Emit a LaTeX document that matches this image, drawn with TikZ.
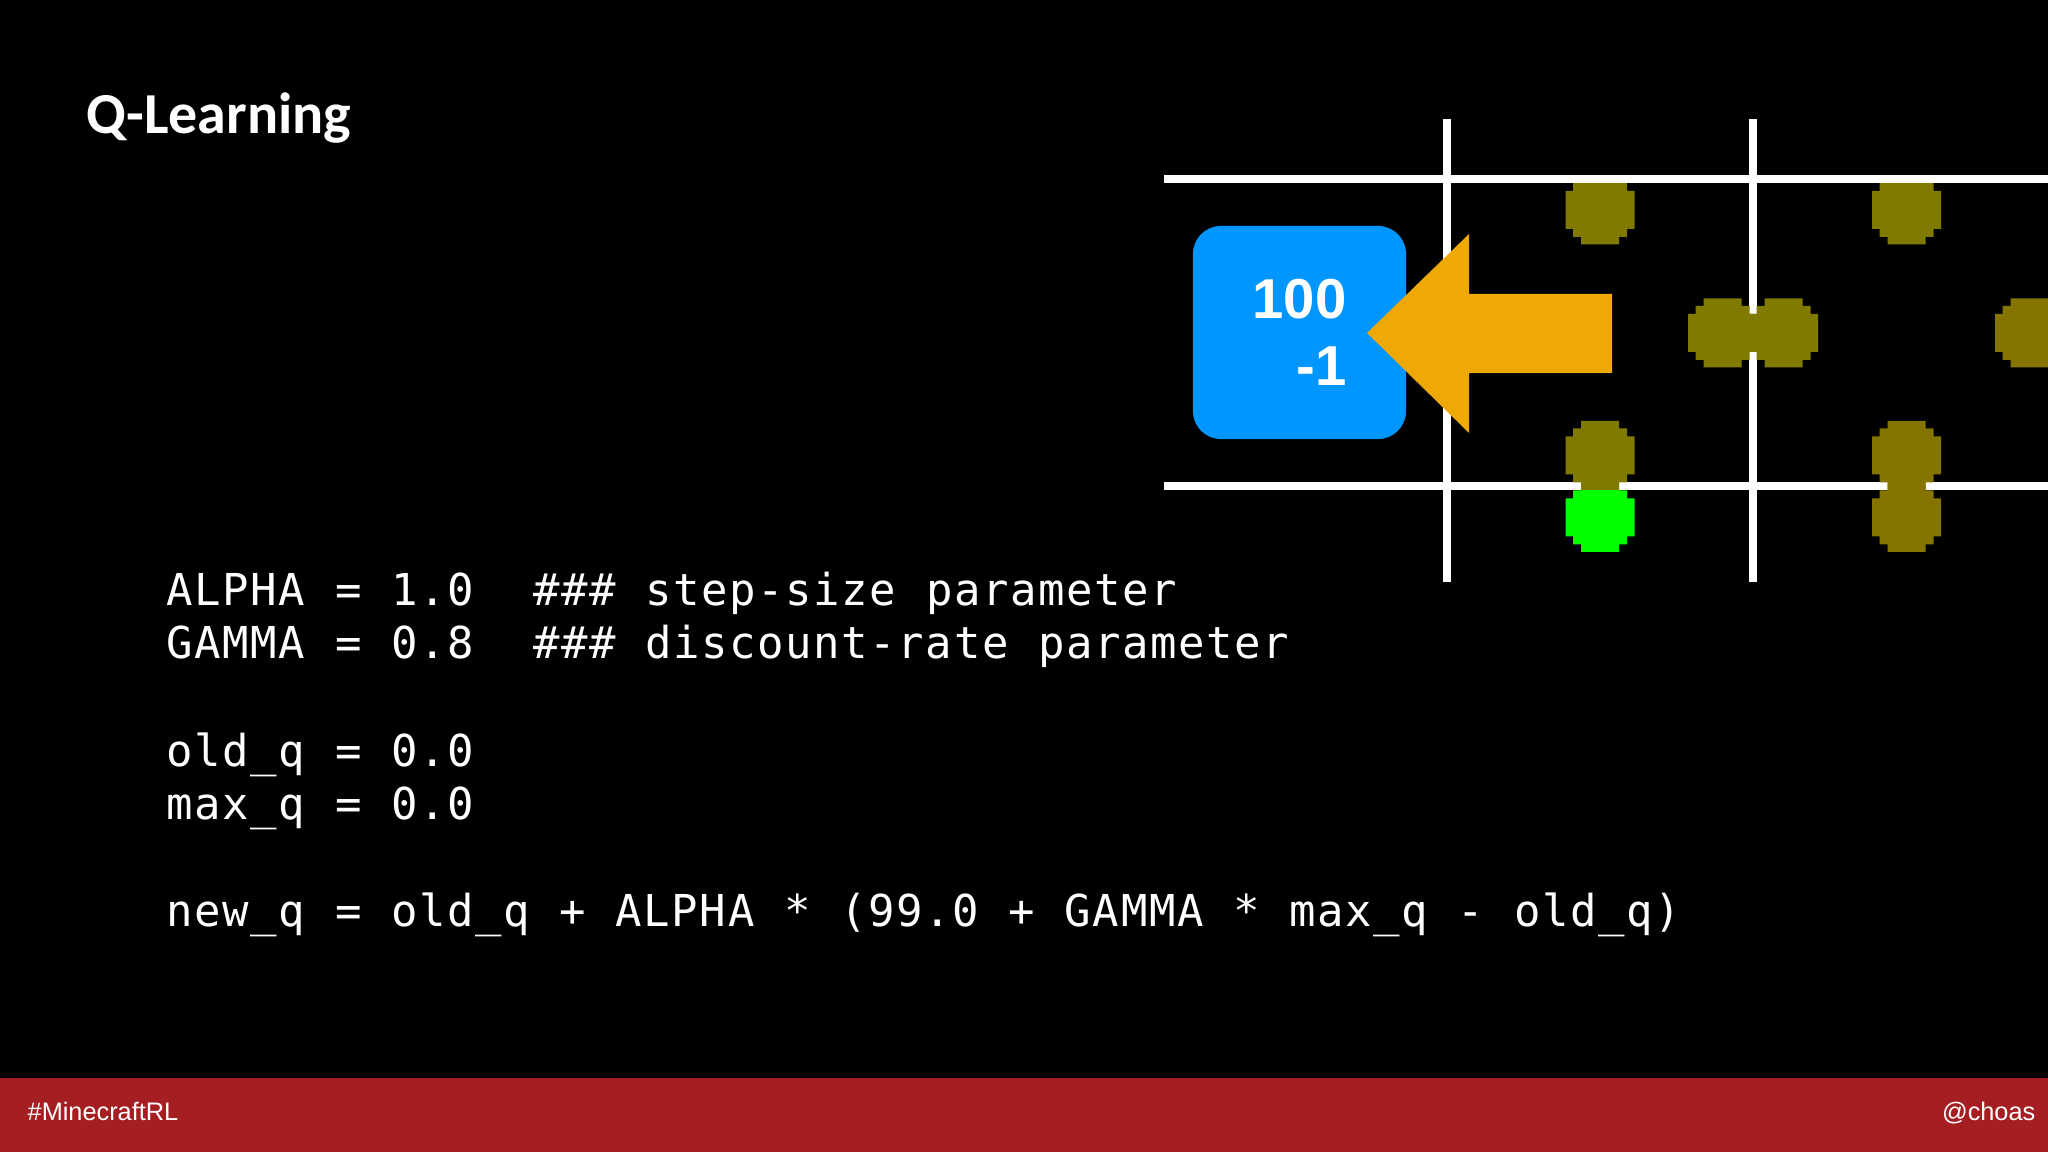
\documentclass[tikz,border=0pt]{standalone}
\usepackage{fontspec}
\usepackage{tikz}
\usetikzlibrary{positioning}
\newfontfamily\codefont[LetterSpace=3.6,WordSpace=1.06]{DejaVu Sans Mono}
\newfontfamily\titlefont{Carlito}
\newfontfamily\arialfont{Liberation Sans}
\definecolor{dotolive}{HTML}{807A00}
\definecolor{dotbrown}{HTML}{857500}
\definecolor{dotgreen}{HTML}{00FF00}
\definecolor{boxblue}{HTML}{0096FF}
\definecolor{arroworange}{HTML}{EFA906}
\definecolor{barred}{HTML}{A51E22}
\tikzset{
  gridline/.style = {white, line width = 2.1pt},
  codeline/.style = {anchor = base west, inner sep = 0, text = white, font = \codefont\fontsize{12.5}{12.5}\selectfont},
  bartext/.style = {inner sep = 0, text = white, font = \arialfont\fontsize{7.2}{7.2}\selectfont},
  valuebox/.style = {fill = boxblue, rounded corners = 0.28cm, minimum width = 2.13cm, minimum height = 2.13cm, inner sep = 0, text = white, align = right, font = \arialfont\bfseries\fontsize{16}{19}\selectfont},
  pics/pixeldot/.style = {code = {
    \fill [#1] (-19, -34.5) -- (19, -34.5) -- (19, -27) -- (27, -27) -- (27, -19) -- (34.5, -19)
      -- (34.5, 19) -- (27, 19) -- (27, 27) -- (19, 27) -- (19, 34.5) -- (-19, 34.5)
      -- (-19, 27) -- (-27, 27) -- (-27, 19) -- (-34.5, 19) -- (-34.5, -19) -- (-27, -19)
      -- (-27, -27) -- (-19, -27) -- cycle;
  }}
}

\begin{document}
\begin{tikzpicture}[x = 0.01cm, y = -0.01cm]
\useasboundingbox (0, 0) rectangle (2048, 1152);
\clip (0, 0) rectangle (2048, 1152);
\fill [black] (0, 0) rectangle (2048, 1152);
%\draw [help lines, step = 100] (0, 0) grid (2048, 1152);
% dots under the top line
\pic at (1600, 210) {pixeldot = dotolive};
\pic at (1906.5, 210) {pixeldot = dotolive};
% grid
\draw [gridline] (1164, 179) -- (2048, 179);
\draw [gridline] (1164, 486) -- (2048, 486);
\draw [gridline] (1447, 119) -- (1447, 582);
\draw [gridline] (1753, 119) -- (1753, 582);
% other dots
\pic at (1722.5, 333) {pixeldot = dotolive};
\pic at (1783.5, 333) {pixeldot = dotolive};
\pic at (2029.5, 333) {pixeldot = dotbrown};
\pic at (1600, 517.5) {pixeldot = dotgreen};
\pic at (1600, 455.5) {pixeldot = dotolive};
\pic at (1906.5, 455.5) {pixeldot = dotbrown};
\pic at (1906.5, 517.5) {pixeldot = dotbrown};
% box and arrow
\node [valuebox] (qvalue) at (1299.5, 332.5) {100\\-1};
\fill [arroworange] (1612, 294) -- (1469, 294) -- (1469, 234) -- (1367, 333) -- (1469, 433) -- (1469, 373) -- (1612, 373) -- cycle;
% title
\node [anchor = base west, inner sep = 0, text = white, font = \titlefont\bfseries\fontsize{16.5}{16.5}\selectfont] (title) at (86, 134) {Q-Learning};
% code
\node [codeline] (alpha) at (166, 606) {ALPHA = 1.0~~\#\#\# step-size parameter};
\node [codeline] (gamma) at (166, 659) {GAMMA = 0.8~~\#\#\# discount-rate parameter};
\node [codeline] (oldq) at (166, 766) {old\_q = 0.0};
\node [codeline] (maxq) at (166, 819) {max\_q = 0.0};
\node [codeline] (newq) at (166, 926) {new\_q = old\_q + ALPHA * (99.0 + GAMMA * max\_q - old\_q)};
% bottom bar
\fill [barred] (0, 1078) rectangle (2048, 1152);
\node [bartext, anchor = base west] (hashtag) at (27, 1120) {\#MinecraftRL};
\node [bartext, anchor = base east] (handle) at (2036, 1120) {@choas};
\end{tikzpicture}
\end{document}
